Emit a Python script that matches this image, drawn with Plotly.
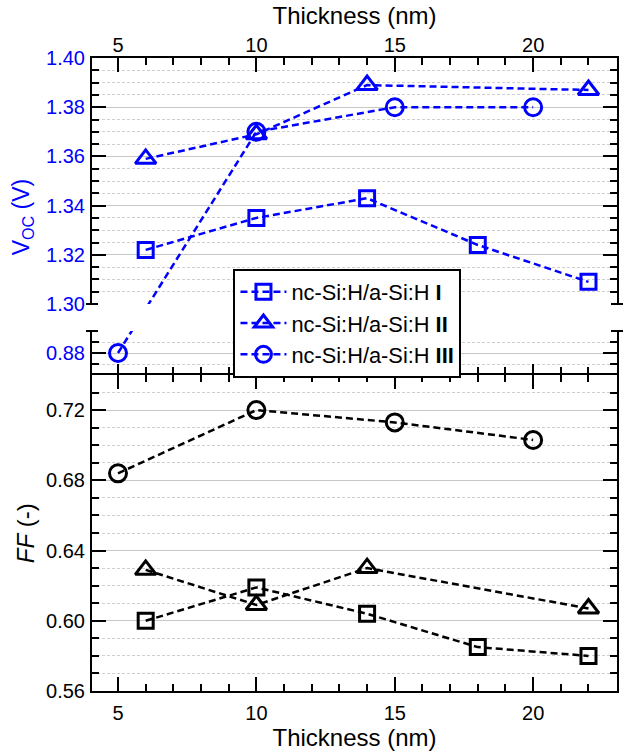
import plotly.graph_objects as go

# ---------------- data ----------------
thickness_I = [6, 10, 14, 18, 22]
voc_I = [1.322, 1.335, 1.343, 1.324, 1.309]
ff_I = [0.600, 0.619, 0.604, 0.585, 0.580]

thickness_II = [6, 10, 14, 22]
voc_II = [1.359, 1.369, 1.389, 1.387]
ff_II = [0.629, 0.609, 0.630, 0.607]

thickness_III = [5, 10, 15, 20]
voc_III = [0.880, 1.370, 1.380, 1.380]
ff_III = [0.684, 0.720, 0.713, 0.703]

series_names = ["nc-Si:H/a-Si:H <b>I</b>",
                "nc-Si:H/a-Si:H <b>II</b>",
                "nc-Si:H/a-Si:H <b>III</b>"]
x_tickvals = [5, 10, 15, 20]

# ---------------- layout geometry ----------------
W, H = 623, 752
ML, MR, MT, MB = 92, 4, 58, 61
PH = H - MT - MB
PW = W - ML - MR
YB = H - MB  # pixel y of plot bottom


def dom(y_top_px, y_bot_px):
    return [(YB - y_bot_px) / PH, (YB - y_top_px) / PH]


dom_top = dom(58, 304)
dom_brk = dom(331, 375)
dom_ff = dom(375, 691)

rng_x = [4.06, 23.03]
rng_top = [1.30, 1.40]
rng_brk = [0.87, 0.89]
rng_ff = [0.56, 0.74]

BLUE = "#0000FF"
FONT = "Liberation Sans, Arial, Helvetica, sans-serif"
GRID = "#c8c8c8"
MGRID = "#cfcfcf"


def to_paper(v, rng, d):
    return d[0] + (v - rng[0]) / (rng[1] - rng[0]) * (d[1] - d[0])


def from_paper(p, rng, d):
    return rng[0] + (p - d[0]) / (d[1] - d[0]) * (rng[1] - rng[0])


def voc_on(target_rng, target_dom, values):
    """Map Voc values (broken axis) into a target panel's coordinates so that
    the connecting line stays straight across the axis break."""
    out = []
    for v in values:
        if v >= 1.0:
            p = to_paper(v, rng_top, dom_top)
        else:
            p = to_paper(v, rng_brk, dom_brk)
        out.append(from_paper(p, target_rng, target_dom))
    return out


dash = "7px,4px"
sym = ["square-open", "triangle-up-open", "circle-open"]
msize = [15, 18, 17]

fig = go.Figure()

voc_x = [thickness_I, thickness_II, thickness_III]
voc_y = [voc_I, voc_II, voc_III]
ff_y = [ff_I, ff_II, ff_III]

for i in range(3):
    # top panel (Voc)
    fig.add_trace(go.Scatter(
        x=voc_x[i], y=voc_on(rng_top, dom_top, voc_y[i]),
        mode="lines+markers", name=series_names[i],
        line=dict(color=BLUE, width=2.5, dash=dash),
        marker=dict(symbol=sym[i], size=msize[i], color=BLUE,
                    line=dict(width=3, color=BLUE)),
        xaxis="x", yaxis="y", showlegend=True, cliponaxis=True))

# broken panel (only series III has a point there)
fig.add_trace(go.Scatter(
    x=thickness_III, y=voc_on(rng_brk, dom_brk, voc_III),
    mode="lines+markers", name=series_names[2],
    line=dict(color=BLUE, width=2.5, dash=dash),
    marker=dict(symbol=sym[2], size=msize[2], color=BLUE,
                line=dict(width=3, color=BLUE)),
    xaxis="x2", yaxis="y2", showlegend=False, cliponaxis=True))

for i in range(3):
    fig.add_trace(go.Scatter(
        x=voc_x[i], y=ff_y[i],
        mode="lines+markers", name=series_names[i],
        line=dict(color="black", width=2.5, dash=dash),
        marker=dict(symbol=sym[i], size=msize[i], color="black",
                    line=dict(width=3, color="black")),
        xaxis="x3", yaxis="y3", showlegend=False))

tickfont = dict(family=FONT, size=20, color="black")
titlefont = dict(family=FONT, size=24, color="black")

common_x = dict(range=rng_x, tickmode="array", tickvals=x_tickvals,
                ticks="inside", ticklen=14, tickwidth=2, tickcolor="black",
                showline=True, linewidth=2, linecolor="black",
                showgrid=False, zeroline=False,
                minor=dict(dtick=1, tick0=0, ticks="inside", ticklen=7,
                           tickwidth=2, tickcolor="black", showgrid=False),
                tickfont=tickfont)

common_y = dict(ticks="inside", ticklen=14, tickwidth=2, tickcolor="black",
                showline=True, linewidth=2, linecolor="black",
                mirror="allticks", zeroline=False, tickformat=".2f",
                showgrid=True, gridcolor=GRID, gridwidth=1,
                ticklabelstandoff=1)

fig.update_layout(
    width=W, height=H,
    margin=dict(l=ML, r=MR, t=MT, b=MB, pad=0),
    paper_bgcolor="white", plot_bgcolor="white",
    font=dict(family=FONT, size=20, color="black"),
    xaxis=dict(common_x, domain=[0, 1], anchor="y", side="top",
               ticklabelstandoff=-4,
               title=dict(text="Thickness (nm)", font=titlefont, standoff=3)),
    xaxis2=dict(common_x, domain=[0, 1], anchor="y2", side="bottom",
                matches="x", showticklabels=False, showline=False, ticklen=11,
                minor=dict(dtick=1, tick0=0, ticks="inside", ticklen=8,
                           tickwidth=2, tickcolor="black", showgrid=False)),
    xaxis3=dict(common_x, domain=[0, 1], anchor="y3", side="bottom",
                matches="x", mirror="allticks", ticklabelstandoff=3,
                title=dict(text="Thickness (nm)", font=titlefont, standoff=2)),
    yaxis=dict(common_y, domain=dom_top, anchor="x", range=rng_top,
               tick0=1.30, dtick=0.02,
               tickfont=dict(family=FONT, size=20, color=BLUE),
               minor=dict(dtick=0.005, tick0=1.30, ticks="inside", ticklen=7,
                          tickwidth=2, tickcolor="black", showgrid=True,
                          gridcolor=MGRID, gridwidth=1, griddash="3px,2px")),
    yaxis2=dict(common_y, domain=dom_brk, anchor="x2", range=rng_brk,
                tick0=0.88, dtick=0.02,
                tickfont=dict(family=FONT, size=20, color=BLUE),
                minor=dict(dtick=0.005, tick0=0.88, ticks="inside", ticklen=7,
                           tickwidth=2, tickcolor="black", showgrid=True,
                           gridcolor=MGRID, gridwidth=1, griddash="3px,2px")),
    yaxis3=dict(common_y, domain=dom_ff, anchor="x3", range=rng_ff,
                tick0=0.56, dtick=0.04, tickfont=tickfont,
                minor=dict(dtick=0.01, tick0=0.56, ticks="inside", ticklen=7,
                           tickwidth=2, tickcolor="black", showgrid=True,
                           gridcolor=MGRID, gridwidth=1, griddash="3px,2px")),
    legend=dict(x=(234 - ML) / PW, y=(YB - 269) / PH, xanchor="left",
                yanchor="top", bgcolor="white", bordercolor="black",
                borderwidth=2, font=dict(family=FONT, size=21.8, color="black"),
                tracegroupgap=0, itemwidth=46),
    showlegend=True,
)

# y-axis titles
fig.add_annotation(text="V<sub>OC</sub> (V)", xref="paper", yref="paper",
                   x=(22.5 - ML) / PW, y=(dom_brk[0] + dom_top[1]) / 2,
                   xanchor="center", yanchor="middle", textangle=-90,
                   showarrow=False, font=dict(family=FONT, size=23, color=BLUE))
fig.add_annotation(text="<i>FF</i> (-)", xref="paper", yref="paper",
                   x=(25 - ML) / PW, y=(dom_ff[0] + dom_ff[1]) / 2,
                   xanchor="center", yanchor="middle", textangle=-90,
                   showarrow=False, font=titlefont)

# axis break marks
stub = 6 / PW
for yb in (dom_top[0], dom_brk[1]):
    for xc in (0, 1):
        fig.add_shape(type="line", xref="paper", yref="paper",
                      x0=xc - stub, x1=xc + stub, y0=yb, y1=yb,
                      line=dict(color="black", width=2), layer="above")

fig.write_html("out.html", config={"displayModeBar": False},
               post_script="document.body.style.margin='0px';")
